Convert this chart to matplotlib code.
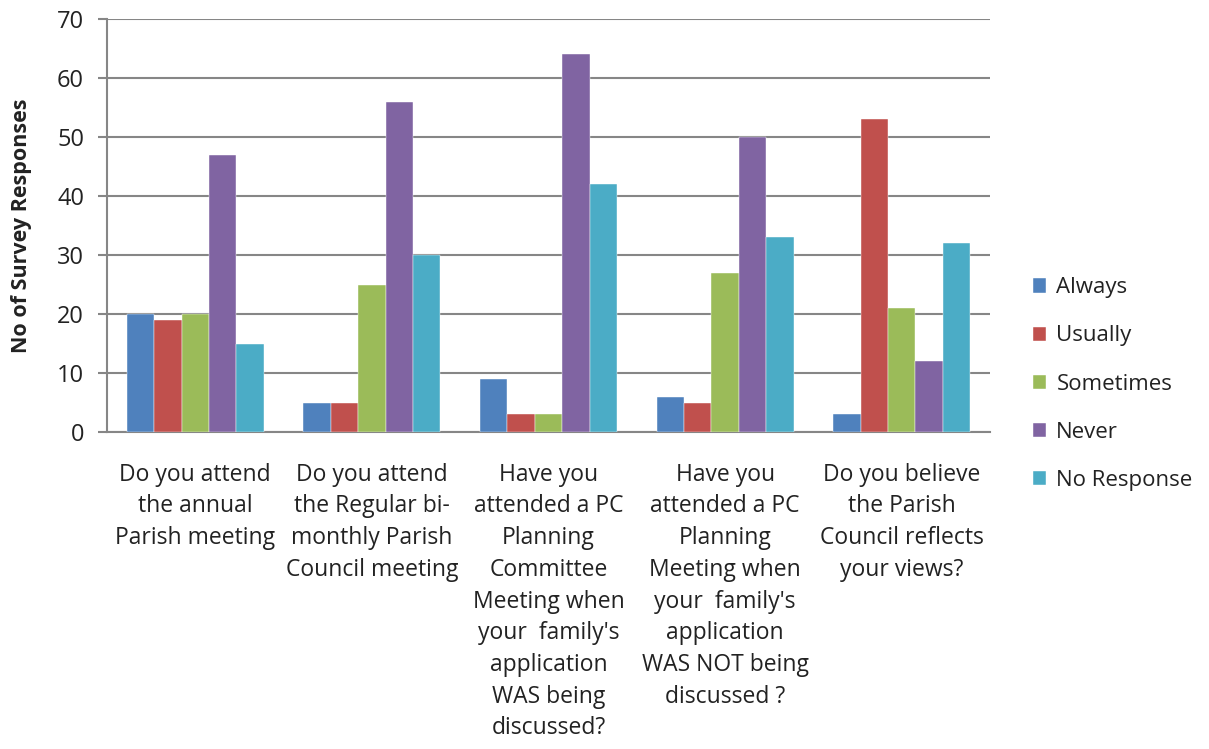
import matplotlib
matplotlib.use("Agg")
import matplotlib.pyplot as plt
import numpy as np

categories = [
    "Do you attend\nthe annual\nParish meeting",
    "Do you attend\nthe Regular bi-\nmonthly Parish\nCouncil meeting",
    "Have you\nattended a PC\nPlanning\nCommittee\nMeeting when\nyour  family's\napplication\nWAS being\ndiscussed?",
    "Have you\nattended a PC\nPlanning\nMeeting when\nyour  family's\napplication\nWAS NOT being\ndiscussed ?",
    "Do you believe\nthe Parish\nCouncil reflects\nyour views?",
]
series_names = ["Always", "Usually", "Sometimes", "Never", "No Response"]
always = [20, 5, 9, 6, 3]
usually = [19, 5, 3, 5, 53]
sometimes = [20, 25, 3, 27, 21]
never = [47, 56, 64, 50, 12]
no_response = [15, 30, 42, 33, 32]
colors = ["#4F81BD", "#C0504D", "#9BBB59", "#8064A2", "#4BACC6"]
yticks = [0, 10, 20, 30, 40, 50, 60, 70]

plt.rcParams['font.family'] = ['Open Sans', 'DejaVu Sans']

fig = plt.figure(figsize=(12.09, 7.49), dpi=100)
ax = fig.add_axes([107/1209, 1 - 432/749, (990-107)/1209, (432-19)/749])

data = [always, usually, sometimes, never, no_response]
x = np.arange(len(categories))
bw = 0.155
for i, (vals, name, c) in enumerate(zip(data, series_names, colors)):
    ax.bar(x + (i - 2) * bw, vals, width=bw, color=c, label=name, zorder=3,
           edgecolor='white', linewidth=0.3)

ax.set_xlim(-0.5, len(categories) - 0.5)
ax.set_ylim(0, 70)
ax.set_yticks(yticks)
ax.set_yticklabels([str(v) for v in yticks], fontsize=17, color='#222222')
ax.yaxis.grid(True, color='#868686', linewidth=1.5, zorder=0)
ax.set_axisbelow(True)
ax.tick_params(axis='y', length=6.5, width=1.5, color='#868686', pad=10)
ax.set_xticks(x)
ax.set_xticklabels(categories, fontsize=16.5, linespacing=1.43, va='top', color='#222222')
ax.tick_params(axis='x', length=0, pad=22)
for s in ['top', 'right']:
    ax.spines[s].set_visible(False)
for s in ['left', 'bottom']:
    ax.spines[s].set_color('#868686')
    ax.spines[s].set_linewidth(1.5)

ax.set_ylabel("No of Survey Responses", fontsize=15.5, fontweight='bold', labelpad=18, color='#222222')

leg = ax.legend(loc='center left', bbox_to_anchor=(1013/1209, 1 - 384/749),
                bbox_transform=fig.transFigure, frameon=False, fontsize=16,
                handlelength=0.6, handleheight=0.6, handletextpad=0.45,
                labelspacing=1.22)
for t in leg.get_texts():
    t.set_color('#222222')

fig.savefig("out.png", dpi=100)
